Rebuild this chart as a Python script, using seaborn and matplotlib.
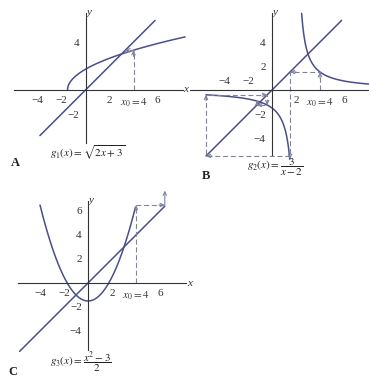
import numpy as np
import pandas as pd
import matplotlib
matplotlib.use("Agg")
import matplotlib.pyplot as plt
import seaborn as sns

sns.set_style("white")
plt.rcParams["font.family"] = ["Liberation Serif", "DejaVu Serif"]
plt.rcParams["mathtext.fontset"] = "stix"

# ---------------- data ----------------
x_ticks = [-4, -2, 2, 4, 6]
x_tick_labels = ["\u22124", "\u22122", "2", r"$x_0 = 4$", "6"]

# Panel A: g1(x) = sqrt(2x+3)
a_curve_range = [-1.5, 8.3]
a_line_range = [-3.8, 5.8]
a_yticks = [-2, 4]
a_cobweb_x = [4, 4, 3.32, 3.32, 3.17]
a_cobweb_y = [0, 3.32, 3.32, 3.17, 3.17]

# Panel B: g2(x) = 3/(x-2)
b_right_range = [2.47, 8.1]
b_left_range = [-5.5, 1.48]
b_line_range = [-5.5, 5.8]
b_yticks = [-4, -2, 2, 4]
b_cobweb_x = [4, 4, 1.5, 1.5, -5.5, -5.5, -0.4, -0.4, -1.25, -1.25, -0.92]
b_cobweb_y = [0, 1.5, 1.5, -5.5, -5.5, -0.4, -0.4, -1.25, -1.25, -0.92, -0.92]

# Panel C: g3(x) = (x^2-3)/2
c_curve_range = [-4.0, 3.95]
c_line_range = [-5.7, 6.4]
c_yticks = [-4, -2, 2, 4, 6]
c_cobweb_x = [4, 4, 6.4]
c_cobweb_y = [0, 6.5, 6.5]


def g1(x):
    return np.sqrt(np.clip(2 * x + 3, 0, None))


def g2(x):
    return 3.0 / (x - 2.0)


def g3(x):
    return (x ** 2 - 3.0) / 2.0


# ---------------- styling ----------------
W, H = 369, 379
CURVE = "#4a4e8c"
DASH = "#80839f"
AXC = "#333333"
FS = 8
UNIT = 12.0  # pixels per data unit

fig = plt.figure(figsize=(W / 100, H / 100), dpi=100)
fig.patch.set_facecolor("white")


def make_ax(ox, oy, xlim, ylim):
    left = ox + xlim[0] * UNIT
    width = (xlim[1] - xlim[0]) * UNIT
    top = oy - ylim[1] * UNIT
    height = (ylim[1] - ylim[0]) * UNIT
    bottom = top + height
    ax = fig.add_axes([left / W, 1 - bottom / H, width / W, height / H])
    ax.set_xlim(*xlim)
    ax.set_ylim(*ylim)
    ax.patch.set_alpha(0)
    for s in ["top", "right"]:
        ax.spines[s].set_visible(False)
    for s in ["left", "bottom"]:
        ax.spines[s].set_position(("data", 0))
        ax.spines[s].set_color(AXC)
        ax.spines[s].set_linewidth(0.8)
    ax.tick_params(direction="inout", length=5, width=0.7, colors=AXC,
                   labelsize=FS, pad=2)
    return ax


def curve(ax, xs, ys, **kw):
    df = pd.DataFrame({"x": xs, "y": ys})
    sns.lineplot(data=df, x="x", y="y", ax=ax, estimator=None, sort=False,
                 **kw)


def arrow(ax, x1, y1, x2, y2, color=DASH):
    ax.annotate("", xy=(x2, y2), xytext=(x1, y1), xycoords="data",
                annotation_clip=False,
                arrowprops=dict(arrowstyle="->,head_length=0.25,head_width=0.12",
                                color=color, lw=0.8, shrinkA=0, shrinkB=0))


def finish(ax):
    for ln in ax.lines:
        ln.set_clip_on(False)
    ax.set_xlabel("")
    ax.set_ylabel("")
    yl = ax.get_ylim()
    ax.text(0.1, yl[1] + 0.05, "y", fontsize=FS, style="italic",
            ha="left", va="center", color=AXC)


DASHSTYLE = (0, (4.5, 2.5))

# ---------------- Panel A ----------------
axA = make_ax(85.5, 90, (-6.0, 8.1), (-4.4, 6.4))
xa = np.concatenate([np.linspace(a_curve_range[0], -1.3, 60),
                     np.linspace(-1.3, a_curve_range[1], 200)])
curve(axA, xa, g1(xa), color=CURVE, linewidth=1.1)
curve(axA, a_line_range, a_line_range, color=CURVE, linewidth=1.1)
curve(axA, a_cobweb_x, a_cobweb_y, color=DASH, linewidth=0.8,
      linestyle=DASHSTYLE)
arrow(axA, 4, 2.8, 4, 3.32)
arrow(axA, 3.6, 3.32, 3.32, 3.32)
axA.set_xticks(x_ticks, x_tick_labels)
axA.set_yticks(a_yticks, ["\u22122", "4"])
axA.text(8.15, 0, "x", fontsize=FS, style="italic", ha="left", va="center",
         color=AXC)
finish(axA)

# ---------------- Panel B ----------------
axB = make_ax(272, 90, (-6.8, 8.1), (-5.45, 6.4))
xr = np.linspace(b_right_range[0], b_right_range[1], 200)
xl_ = np.linspace(b_left_range[0], b_left_range[1], 300)
curve(axB, xr, g2(xr), color=CURVE, linewidth=1.1)
curve(axB, xl_, g2(xl_), color=CURVE, linewidth=1.1)
curve(axB, b_line_range, b_line_range, color=CURVE, linewidth=1.1)
curve(axB, b_cobweb_x, b_cobweb_y, color=DASH, linewidth=0.8,
      linestyle=DASHSTYLE)
arrow(axB, 4, 1.0, 4, 1.5)
arrow(axB, 2.0, 1.5, 1.5, 1.5)
arrow(axB, 1.5, -5.2, 1.5, -5.75)
arrow(axB, -5.0, -5.5, -5.5, -5.5)
arrow(axB, -5.5, -0.9, -5.5, -0.4)
arrow(axB, -0.8, -0.4, -0.4, -0.4)
arrow(axB, -0.4, -0.9, -0.4, -1.25)
arrow(axB, -0.85, -1.25, -1.25, -1.25)
arrow(axB, -1.25, -1.1, -1.25, -0.92)
axB.set_xticks(x_ticks, ["", "", "2", r"$x_0 = 4$", "6"])
for xv, lab in zip(x_ticks[:2], x_tick_labels[:2]):
    axB.text(xv, 0.35, lab, fontsize=FS, ha="center", va="bottom",
             color=AXC)
axB.set_yticks(b_yticks, ["\u22124", "\u22122", "2", "4"])
finish(axB)

# ---------------- Panel C ----------------
axC = make_ax(88, 283, (-5.8, 8.2), (-5.6, 6.8))
xc = np.linspace(c_curve_range[0], c_curve_range[1], 300)
curve(axC, xc, g3(xc), color=CURVE, linewidth=1.1)
curve(axC, c_line_range, c_line_range, color=CURVE, linewidth=1.1)
curve(axC, c_cobweb_x, c_cobweb_y, color=DASH, linewidth=0.8,
      linestyle=DASHSTYLE)
arrow(axC, 4, 6.0, 4, 6.5)
arrow(axC, 5.9, 6.5, 6.4, 6.5)
arrow(axC, 6.4, 6.5, 6.4, 7.7)
axC.set_xticks(x_ticks, x_tick_labels)
axC.set_yticks(c_yticks, ["\u22124", "\u22122", "2", "4", "6"])
axC.text(8.25, 0, "x", fontsize=FS, style="italic", ha="left", va="center",
         color=AXC)
finish(axC)

# ---------------- captions ----------------
def ftext(px, py, s, **kw):
    fig.text(px / W, 1 - py / H, s, **kw)


ftext(88, 153, r"$g_1(x) = \sqrt{2x + 3}$", fontsize=8, ha="center",
      va="center", color="#222")
ftext(275, 167, r"$g_2(x) = \dfrac{3}{x - 2}$", fontsize=8, ha="center",
      va="center", color="#222")
ftext(81, 362, r"$g_3(x) = \dfrac{x^2 - 3}{2}$", fontsize=8, ha="center",
      va="center", color="#222")
ftext(15, 163, "A", fontsize=9, fontweight="bold", ha="center",
      va="center", color="#222")
ftext(206, 176, "B", fontsize=9, fontweight="bold", ha="center",
      va="center", color="#222")
ftext(13, 372, "C", fontsize=9, fontweight="bold", ha="center",
      va="center", color="#222")

fig.savefig("out.png", dpi=100, facecolor="white")
